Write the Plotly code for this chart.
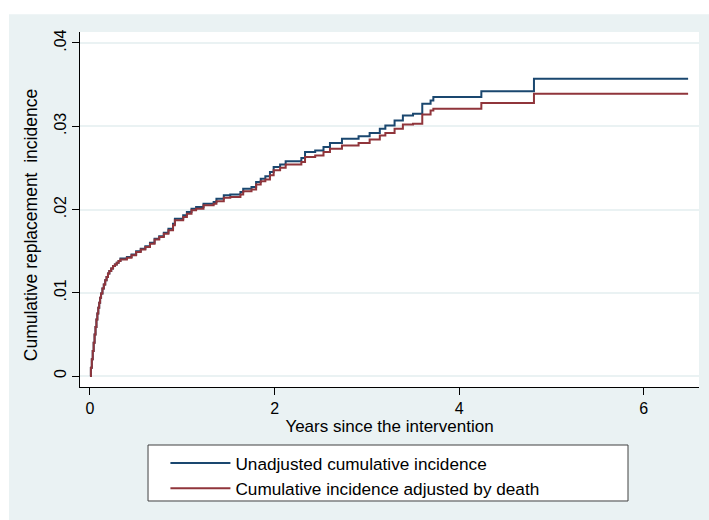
import plotly.graph_objects as go

# Event times (years) and cumulative incidence after each step
years = [0, 0.01, 0.02, 0.03, 0.04, 0.05, 0.06, 0.07, 0.08, 0.09, 0.10, 0.11, 0.12,
         0.135, 0.15, 0.165, 0.18, 0.195, 0.21, 0.23, 0.25, 0.27, 0.29, 0.31, 0.33,
         0.40, 0.45, 0.50, 0.55, 0.60, 0.65, 0.70, 0.75, 0.80, 0.85, 0.90, 0.92,
         1.01, 1.05, 1.10, 1.15, 1.23, 1.34, 1.37, 1.45, 1.52, 1.63, 1.66, 1.75,
         1.80, 1.85, 1.90, 1.95, 1.99, 2.06, 2.12, 2.29, 2.33, 2.44, 2.53, 2.60,
         2.73, 2.91, 3.03, 3.14, 3.20, 3.30, 3.39, 3.50, 3.60, 3.69, 3.72, 4.24,
         4.81, 6.48]

unadjusted = [0, 0.0010, 0.0020, 0.0030, 0.0040, 0.0050, 0.0059, 0.0068, 0.0075, 0.0082,
              0.0088, 0.0094, 0.0099, 0.0105, 0.0110, 0.0115, 0.0119, 0.0123, 0.0126,
              0.0129, 0.0132, 0.0134, 0.0136, 0.0138, 0.0141,
              0.0143, 0.0146, 0.0150, 0.0153, 0.0156, 0.0160,
              0.0165, 0.0168, 0.0172, 0.0177, 0.0183, 0.0189, 0.0193, 0.0197, 0.0201,
              0.0203, 0.0207, 0.0209, 0.0213, 0.0217, 0.0218, 0.0221, 0.0225, 0.0227,
              0.0233, 0.0237, 0.0240, 0.0245, 0.0251, 0.0254, 0.0258, 0.0262, 0.0269,
              0.0271, 0.0275, 0.0280, 0.0285, 0.0288, 0.0292, 0.0297, 0.0301, 0.0307,
              0.0313, 0.0315, 0.0327, 0.0331, 0.0335, 0.0342, 0.0357, 0.0357]

adjusted = [0, 0.0010, 0.0020, 0.0030, 0.0040, 0.0050, 0.0059, 0.0068, 0.0075, 0.0082,
            0.0088, 0.0094, 0.0099, 0.0105, 0.0110, 0.0115, 0.0119, 0.0123, 0.0126,
            0.0129, 0.0132, 0.0134, 0.0136, 0.0138, 0.0140,
            0.0142, 0.0145, 0.0149, 0.0152, 0.0155, 0.0159,
            0.0164, 0.0167, 0.0171, 0.0175, 0.0181, 0.0187, 0.0191, 0.0195, 0.0199,
            0.0201, 0.0205, 0.0207, 0.0210, 0.0214, 0.0215, 0.0218, 0.0222, 0.0224,
            0.0230, 0.0234, 0.0236, 0.0241, 0.0247, 0.0250, 0.0254, 0.0257, 0.0263,
            0.0265, 0.0269, 0.0273, 0.0277, 0.0280, 0.0284, 0.0289, 0.0292, 0.0297,
            0.0302, 0.0303, 0.0314, 0.0319, 0.0321, 0.0328, 0.0339, 0.0339]

series_names = ["Unadjusted cumulative incidence", "Cumulative incidence adjusted by death"]
x_ticks = [0, 2, 4, 6]
y_ticks = [0, 0.01, 0.02, 0.03, 0.04]
y_ticktext = ["0", ".01", ".02", ".03", ".04"]
x_title = "Years since the intervention"
y_title = "Cumulative replacement\u00a0 incidence"

BG = "#EAF2F3"
FONT = "Arial, Liberation Sans, sans-serif"

fig = go.Figure()
fig.add_trace(go.Scatter(x=years, y=unadjusted, mode="lines", line_shape="hv",
                         name=series_names[0], line=dict(color="#1A476F", width=2)))
fig.add_trace(go.Scatter(x=years, y=adjusted, mode="lines", line_shape="hv",
                         name=series_names[1], line=dict(color="#90353B", width=2)))

fig.update_layout(
    width=709, height=520,
    margin=dict(l=80, r=10, t=32, b=133),
    paper_bgcolor=BG, plot_bgcolor="white",
    font=dict(family=FONT, size=16, color="black"),
    showlegend=True,
    legend=dict(x=0.138, y=-0.164, xanchor="left", yanchor="top",
                bgcolor="rgba(0,0,0,0)", borderwidth=0,
                font=dict(size=17.2), itemwidth=60, tracegroupgap=0),
    shapes=[
        dict(type="rect", xref="paper", yref="paper", x0=-0.2, x1=1.1, y0=1.05, y1=1.2,
             fillcolor="white", line=dict(width=0), layer="below"),
        dict(type="rect", xref="paper", yref="paper", x0=-0.2, x1=-0.1147, y0=-0.5, y1=1.2,
             fillcolor="white", line=dict(width=0), layer="below"),
        dict(type="rect", xref="paper", yref="paper", x0=0.1099, x1=0.8853,
             y0=-0.3211, y1=-0.1634, fillcolor="white",
             line=dict(color="#404040", width=1), layer="below"),
    ],
    annotations=[
        dict(text=y_title, textangle=-90, xref="paper", yref="paper",
             x=-0.079, y=0.456, xanchor="center", yanchor="middle", showarrow=False,
             font=dict(size=17.5)),
    ],
)

fig.update_xaxes(range=[-0.108, 6.598], tickvals=x_ticks, ticks="outside", ticklen=7,
                 tickcolor="black", showline=True, linecolor="black", linewidth=1,
                 showgrid=False, zeroline=False, tickfont=dict(size=16),
                 title=dict(text=x_title, font=dict(size=17), standoff=0))
fig.update_yaxes(range=[-0.00132, 0.04132], tickvals=y_ticks, ticktext=y_ticktext,
                 tickangle=-90, ticks="outside", ticklen=7, tickcolor="black",
                 showline=True, linecolor="black", linewidth=1,
                 showgrid=True, gridcolor=BG, gridwidth=1.5, zeroline=False,
                 tickfont=dict(size=16))

fig.write_html("out.html")
